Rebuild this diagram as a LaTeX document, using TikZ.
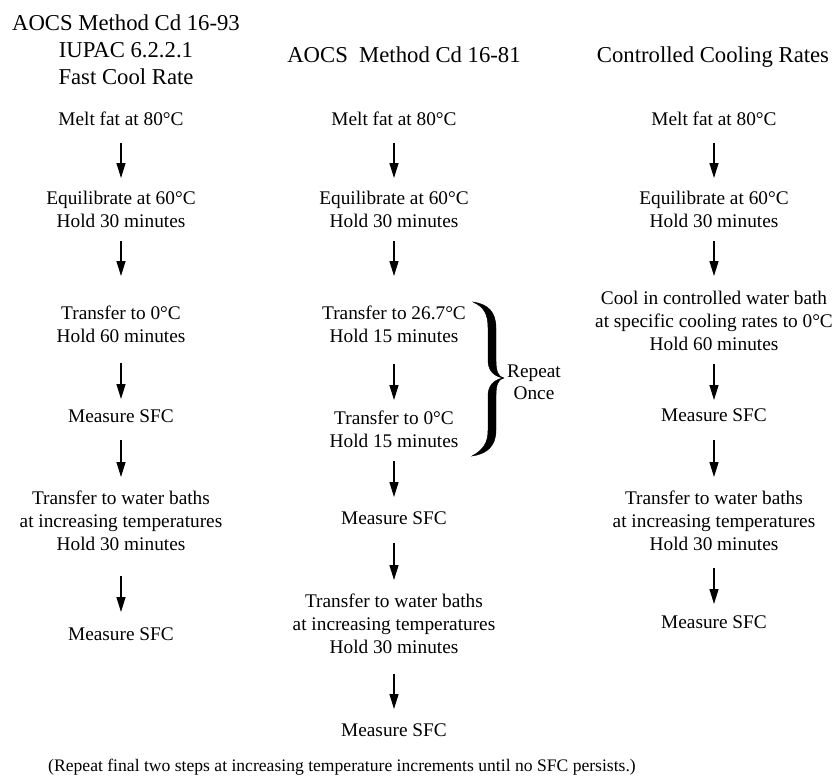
\documentclass[tikz,border=0pt]{standalone}
\usepackage{fontspec}
\setmainfont{Liberation Serif}
\usetikzlibrary{arrows.meta}
\begin{document}
\begin{tikzpicture}[x=1pt,y=-1pt,
  txt/.style={font=\fontsize{19.3}{23}\selectfont, align=center, inner sep=0pt, anchor=north},
  ttl/.style={font=\fontsize{22.7}{27}\selectfont, align=center, inner sep=0pt, anchor=north},
  arr/.style={line width=1.3pt, -{Triangle[length=15pt,width=9pt]}},
  bracefill/.style={fill=black, draw=black, line width=0.4pt}
]
\useasboundingbox (0,0) rectangle (834,780);

% ---------- column 1 ----------
\node[ttl] (h1) at (126,15) {AOCS Method Cd 16-93\\IUPAC 6.2.2.1\\Fast Cool Rate};
\node[txt] (m1) at (121,111.5) {Melt fat at 80°C};
\node[txt] (e1) at (121,190.5) {Equilibrate at 60°C\\Hold 30 minutes};
\node[txt] (t1) at (121,305.5) {Transfer to 0°C\\Hold 60 minutes};
\node[txt] (s1) at (121,409.5) {Measure SFC};
\node[txt] (w1) at (121,490.5) {Transfer to water baths\\at increasing temperatures\\Hold 30 minutes};
\node[txt] (f1) at (121,627.5) {Measure SFC};

\draw[arr, shorten <=17.5pt, shorten >=12.5pt] (m1.south) -- (e1.north);
\draw[arr, shorten <=13.5pt, shorten >=29.5pt] (e1.south) -- (t1.north);
\draw[arr, shorten <=20.5pt, shorten >=10.5pt] (t1.south) -- (s1.north);
\draw[arr, shorten <=17.5pt, shorten >=13.5pt] (s1.south) -- (w1.north);
\draw[arr, shorten <=25.5pt, shorten >=15.5pt] (w1.south) -- (f1.north);

% ---------- column 2 ----------
\node[ttl] (h2) at (404,47) {AOCS\ \ Method Cd 16-81};
\node[txt] (m2) at (394,111.5) {Melt fat at 80°C};
\node[txt] (e2) at (394,190.5) {Equilibrate at 60°C\\Hold 30 minutes};
\node[txt] (a2) at (394,305.5) {Transfer to 26.7°C\\Hold 15 minutes};
\node[txt] (b2) at (394,410.5) {Transfer to 0°C\\Hold 15 minutes};
\node[txt] (s2) at (394,511.5) {Measure SFC};
\node[txt] (w2) at (394,593.5) {Transfer to water baths\\at increasing temperatures\\Hold 30 minutes};
\node[txt] (f2) at (394,723.5) {Measure SFC};

\draw[arr, shorten <=17.5pt, shorten >=12.5pt] (m2.south) -- (e2.north);
\draw[arr, shorten <=13.5pt, shorten >=29.5pt] (e2.south) -- (a2.north);
\draw[arr, shorten <=21.5pt, shorten >=10.5pt] (a2.south) -- (b2.north);
\draw[arr, shorten <=13.5pt, shorten >=14.5pt] (b2.south) -- (s2.north);
\draw[arr, shorten <=18.5pt, shorten >=13.5pt] (s2.south) -- (w2.north);
\draw[arr, shorten <=20.5pt, shorten >=14.5pt] (w2.south) -- (f2.north);

% brace and label
\fill[bracefill]
  (473,302) .. controls (488,304) and (496,312) .. (496,328)
  -- (496,360) .. controls (496,371) and (498,377) .. (504,378)
  .. controls (498,379) and (496,385) .. (496,396)
  -- (496,430) .. controls (496,446) and (487,454) .. (472,456)
  .. controls (483,450) and (488,443) .. (488,430)
  -- (488,396) .. controls (488,386) and (493,380) .. (503,378)
  .. controls (493,376) and (488,370) .. (488,360)
  -- (488,328) .. controls (488,314) and (484,307) .. (473,302) -- cycle;
\node[txt, anchor=center, font=\fontsize{19.3}{22}\selectfont] (rep) at (534,382) {Repeat\\Once};

% ---------- column 3 ----------
\node[ttl] (h3) at (713,47) {Controlled Cooling Rates};
\node[txt] (m3) at (714,111.5) {Melt fat at 80°C};
\node[txt] (e3) at (714,190.5) {Equilibrate at 60°C\\Hold 30 minutes};
\node[txt] (c3) at (714,290.5) {Cool in controlled water bath\\at specific cooling rates to 0°C\\Hold 60 minutes};
\node[txt] (s3) at (714,408.5) {Measure SFC};
\node[txt] (w3) at (714,490.5) {Transfer to water baths\\at increasing temperatures\\Hold 30 minutes};
\node[txt] (f3) at (714,615.5) {Measure SFC};

\draw[arr, shorten <=17.5pt, shorten >=12.5pt] (m3.south) -- (e3.north);
\draw[arr, shorten <=13.5pt, shorten >=14.5pt] (e3.south) -- (c3.north);
\draw[arr, shorten <=13.5pt, shorten >=8.5pt] (c3.south) -- (s3.north);
\draw[arr, shorten <=18.5pt, shorten >=13.5pt] (s3.south) -- (w3.north);
\draw[arr, shorten <=17.5pt, shorten >=11.5pt] (w3.south) -- (f3.north);

% ---------- footer ----------
\node[txt, anchor=center, font=\fontsize{17.6}{21}\selectfont] (foot) at (342,767) {(Repeat final two steps at increasing temperature increments until no SFC persists.)};
\end{tikzpicture}
\end{document}
